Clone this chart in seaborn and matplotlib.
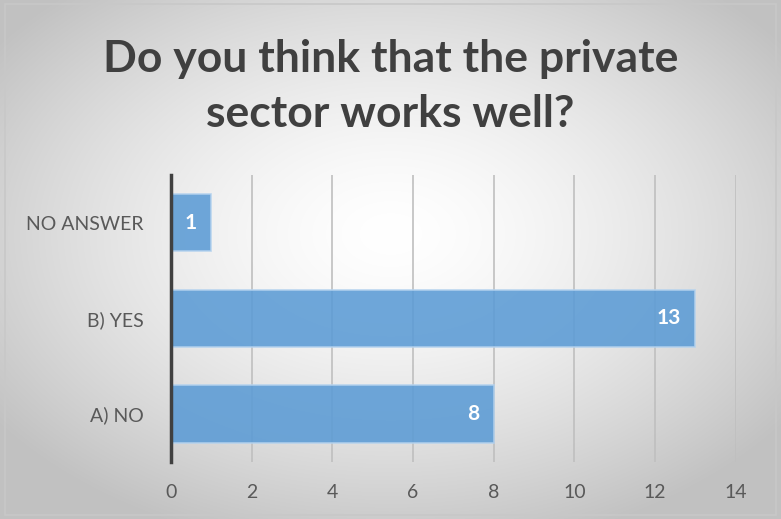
import numpy as np
import pandas as pd
import matplotlib
matplotlib.use("Agg")
import matplotlib.pyplot as plt
import seaborn as sns

categories = ["NO ANSWER", "B) YES", "A) NO"]
values = [1, 13, 8]
xticks = [0, 2, 4, 6, 8, 10, 12, 14]
title = "Do you think that the private\nsector works well?"

sns.set_style("white")
plt.rcParams['font.family'] = ['Lato', 'DejaVu Sans']

fig = plt.figure(figsize=(7.81, 5.19), dpi=100)

# radial gradient background
bg = fig.add_axes([0, 0, 1, 1], zorder=-10)
h, w = 519, 781
yy, xx = np.mgrid[0:h, 0:w]
cx, cy = 0.5 * w, 0.45 * h
r = np.sqrt(((xx - cx) / (0.62 * w)) ** 2 + ((yy - cy) / (0.62 * h)) ** 2)
r = np.clip(r, 0, 1)
val = 1.0 - 0.24 * r ** 1.5
img = np.dstack([val, val, val])
bg.imshow(img, extent=[0, 1, 0, 1], aspect='auto', origin='upper')
bg.add_patch(plt.Rectangle((0.006, 0.008), 0.988, 0.984, fill=False,
                           edgecolor="#C8C8C8", lw=1.2, transform=bg.transAxes))
bg.axis('off')

ax = fig.add_axes([0.219, 0.110, 0.723, 0.553])
ax.patch.set_alpha(0)
df = pd.DataFrame({"cat": categories, "val": values})
sns.barplot(data=df, y="cat", x="val", order=categories, orient="h",
            color="#5B9BD5", saturation=1, width=0.6, ax=ax, zorder=3)
for p in ax.patches:
    p.set_alpha(0.88)
    p.set_edgecolor("#B4D2EE")
    p.set_linewidth(1.2)

for i, v in enumerate(values):
    ax.text(v - 0.36, i, str(v), ha='right', va='center', color='white',
            fontsize=15, fontweight='bold', zorder=5)

ax.set_xlim(0, 14)
ax.set_ylim(2.5, -0.5)
ax.set_xticks(xticks)
ax.set_xticklabels([str(t) for t in xticks])
ax.grid(axis='x', color="#BFBFBF", lw=1.2, zorder=1)
ax.set_axisbelow(True)
for s in ["top", "right", "bottom"]:
    ax.spines[s].set_visible(False)
ax.spines["left"].set_color("#404040")
ax.spines["left"].set_linewidth(2.5)
ax.spines["left"].set_zorder(6)
ax.tick_params(axis='both', length=0, labelsize=14, colors="#595959")
ax.tick_params(axis='x', pad=16)
ax.tick_params(axis='y', pad=20)
ax.set_xlabel("")
ax.set_ylabel("")

fig.text(0.5, 0.834, title, ha='center', va='center', fontsize=32,
         fontweight='bold', color="#404040", linespacing=1.45)

fig.savefig("out.png", dpi=100)
